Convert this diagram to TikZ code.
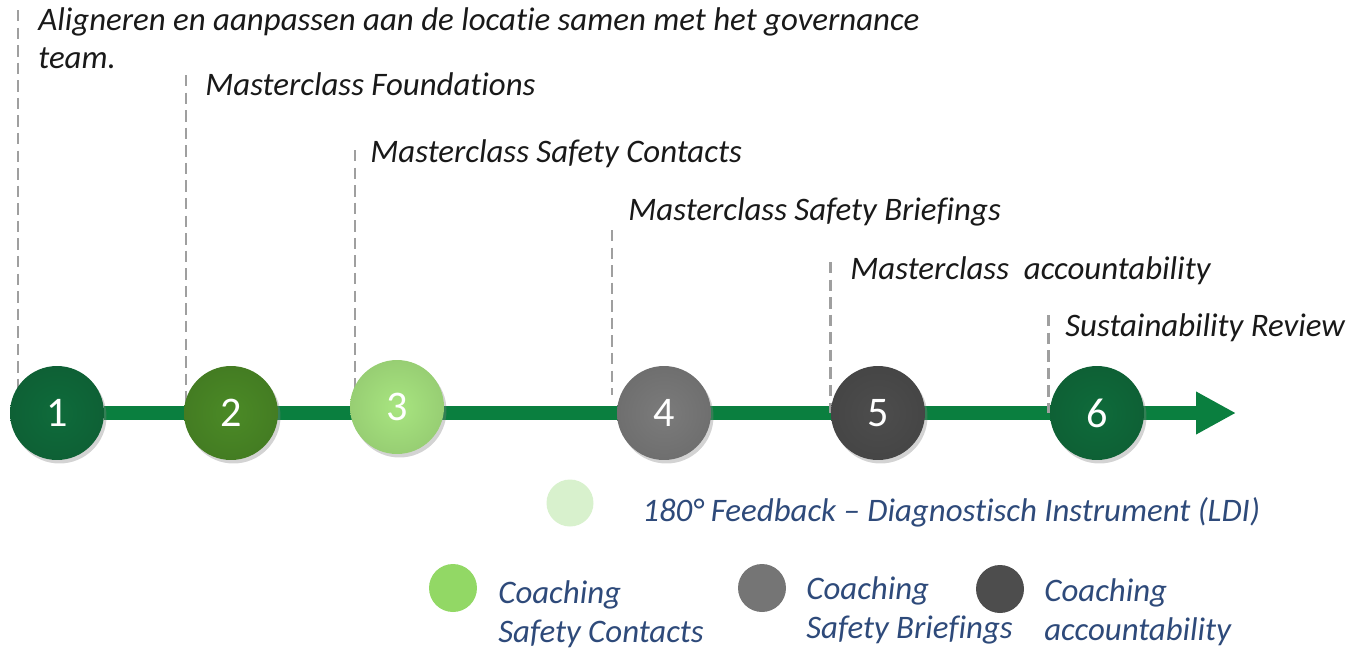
\documentclass[tikz,border=0pt]{standalone}
\usepackage{fontspec}
\setmainfont[Ligatures=NoCommon]{Carlito}
\usepackage{xcolor}
\usetikzlibrary{
    shadows,
    positioning,
    calc,
    arrows.meta,
    backgrounds
}
\definecolor{darkgreen}{HTML}{0F6B3B}
\definecolor{midgreen}{HTML}{4B8A26}
\definecolor{lightgreen}{HTML}{A8E580}
\definecolor{paleGreen}{HTML}{D8F1CD}
\definecolor{coachgreen}{HTML}{92D865}
\definecolor{midgrey}{HTML}{7B7B7B}
\definecolor{darkgrey}{HTML}{4D4D4D}
\definecolor{linegreen}{HTML}{0A7F3F}
\definecolor{legendblue}{HTML}{2E4A7A}
\tikzset{
  vertex/.style = {
      circle,
      minimum size=1.88cm,
      inner sep=0pt,
      text=white,
      font=\fontsize{24}{28}\selectfont,
      drop shadow={opacity=0.35, shadow xshift=0.05cm, shadow yshift=-0.07cm}
  },
  milestone/.style = {
      vertex,
      inner color=#1,
      outer color=#1!90!black
  },
  edge/.style = {
      line width=0.28cm,
      draw=linegreen,
      -{Triangle[length=0.8cm, width=0.8cm]}
  },
  guide/.style = {
      draw=gray!75,
      line width=1.7pt,
      dash pattern=on 6.5pt off 3.5pt
  },
  steptext/.style = {
      anchor=base west,
      inner sep=0pt,
      text=black!90,
      font=\fontsize{18.7}{22}\selectfont\itshape
  },
  dot/.style = {
      circle,
      draw=none,
      fill=#1,
      minimum size=0.94cm,
      inner sep=0pt
  },
  legendtext/.style = {
      anchor=base west,
      inner sep=0pt,
      align=left,
      text=legendblue,
      font=\fontsize{18.7}{22.2}\selectfont\itshape
  }
}

\begin{document}
\begin{tikzpicture}[x=0.02cm, y=-0.02cm]
    \useasboundingbox (0,0) rectangle (1350,650);
    % Milestones
    \node[milestone=darkgreen] (c1) at (57,413) {1};
    \node[milestone=midgreen] (c2) at (231,413) {2};
    \node[milestone=lightgreen] (c3) at (397,407) {3};
    \node[milestone=midgrey] (c4) at (664,413) {4};
    \node[milestone=darkgrey] (c5) at (878,413) {5};
    \node[milestone=darkgreen] (c6) at (1097,413) {6};
    \coordinate (tip) at (1236,413);
    % Guide tops
    \coordinate (g1) at (18,10);
    \coordinate (g2) at (186,75);
    \coordinate (g3) at (355,150);
    \coordinate (g4) at (612,230);
    \coordinate (g5) at (830,262);
    \coordinate (g6) at (1048,315);
    \begin{scope}[on background layer]
        \draw[edge] (c1) -- (tip);
        \draw[guide] (g1) -- (g1 |- c1.center);
        \draw[guide] (g2) -- (g2 |- c2.center);
        \draw[guide] (g3) -- (g3 |- c3.center);
        \draw[guide] (g4) -- ($(g4 |- c4.center)+(0,-18)$);
        \draw[guide] (g5) -- (g5 |- c5.center);
        \draw[guide] (g6) -- (g6 |- c6.center);
    \end{scope}
    % Steps
    \node[steptext] (s1) at (38,30) {Aligneren en aanpassen aan de locatie samen met het governance};
    \node[steptext] (s1b) at (38,68) {team.};
    \node[steptext] (s2) at (205,95) {Masterclass Foundations};
    \node[steptext] (s3) at (370,162) {Masterclass Safety Contacts};
    \node[steptext] (s4) at (628,220) {Masterclass Safety Briefings};
    \node[steptext] (s5) at (850,279) {Masterclass\ \ accountability};
    \node[steptext] (s6) at (1065,336) {Sustainability Review};
    % Legend
    \node[dot=paleGreen] (d0) at (570,503) {};
    \node[legendtext] (l0) at (642,521) {180° Feedback – Diagnostisch Instrument (LDI)};
    \node[dot=coachgreen, minimum size=0.96cm] (d1) at (453,588) {};
    \node[legendtext] (l1) at (498,642) {Coaching\\Safety Contacts};
    \node[dot=midgrey!95!black, minimum size=0.96cm] (d2) at (762,588) {};
    \node[legendtext] (l2) at (806,638) {Coaching\\Safety Briefings};
    \node[dot=darkgrey, minimum size=0.96cm] (d3) at (1000,589) {};
    \node[legendtext] (l3) at (1044,640) {Coaching\\accountability};
\end{tikzpicture}
\end{document}
